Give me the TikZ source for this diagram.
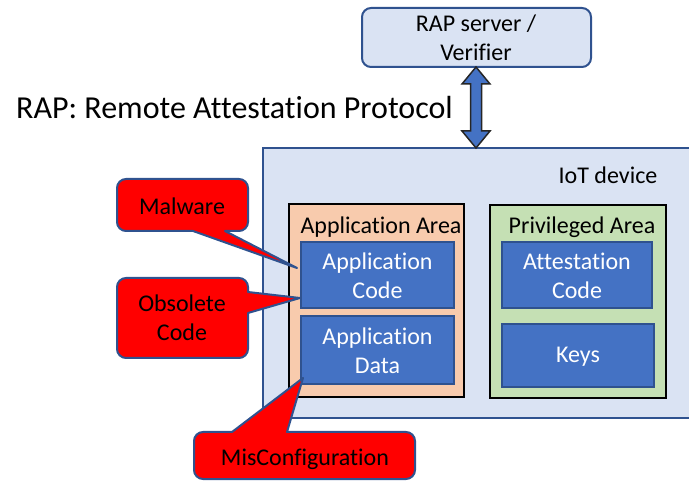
\documentclass[tikz,border=0pt]{standalone}
\usepackage{fontspec}
\setmainfont{Carlito}[Ligatures={NoCommon}]
\definecolor{lightblue}{HTML}{DAE3F3}
\definecolor{edgeblue}{HTML}{2F528F}
\definecolor{midblue}{HTML}{4472C4}
\definecolor{peach}{HTML}{F8CBAD}
\definecolor{lightgreen}{HTML}{C5E0B4}
\definecolor{alertred}{HTML}{FF0000}
\tikzset{
  txt/.style={font=\fontsize{24}{29}\selectfont, align=center, inner sep=0pt},
  wtxt/.style={txt, text=white},
  bluebox/.style={draw=edgeblue, fill=midblue, line width=2pt},
  areabox/.style={draw=black, line width=2.5pt},
  callout/.style={draw=edgeblue, fill=alertred, line width=2pt, line join=round},
}
\begin{document}
\begin{tikzpicture}[x=1pt,y=-1pt]
\useasboundingbox (0,0) rectangle (689,481);
\clip (0,0) rectangle (689,481);
% RAP server
\draw[draw=edgeblue, fill=lightblue, line width=2pt, rounded corners=9] (362,8) rectangle (591,67);
\node[txt] (srv) at (476,37.5) {RAP server /\\Verifier};
% IoT device
\draw[draw=edgeblue, fill=lightblue, line width=2pt] (263,148) rectangle (720,418);
\node[txt] (iot) at (608,175) {IoT device};
% double arrow
\draw[fill=midblue, draw=black!85, line width=1.5pt, line join=miter]
  (476,67) -- (490,84) -- (481.5,84) -- (481.5,131) -- (490,131) -- (476,148)
  -- (462,131) -- (470.5,131) -- (470.5,84) -- (462,84) -- cycle;
\node[font=\fontsize{32}{36}\selectfont, inner sep=0pt, anchor=west] (rap) at (16,108) {RAP: Remote Attestation Protocol};
% application area
\draw[areabox, fill=peach] (289,204) rectangle (464,397);
\node[txt] (apparea) at (381,227) {Application Area};
\draw[bluebox] (301,242) rectangle (454,308);
\node[wtxt] (appcode) at (377.5,276) {Application\\Code};
\draw[bluebox] (301,316) rectangle (454,384);
\node[wtxt] (appdata) at (377.5,351) {Application\\Data};
% privileged area
\draw[areabox, fill=lightgreen] (490,205) rectangle (666,398);
\node[txt] (privarea) at (582,227) {Privileged Area};
\draw[bluebox] (502,242) rectangle (652,308);
\node[wtxt] (attcode) at (577,276) {Attestation\\Code};
\draw[bluebox] (502,324) rectangle (654,387);
\node[wtxt] (keys) at (578,357) {Keys};
% callouts
\draw[callout] (182,179) [rounded corners=9] -- (248,179) -- (248,231) [sharp corners] -- (225,231) -- (297,268) -- (193,231) [rounded corners=9] -- (117,231) -- (117,179) [sharp corners] -- cycle;
\node[txt] (malware) at (182,206) {Malware};
\draw[callout] (182,278) [rounded corners=9] -- (248,278) [sharp corners] -- (248,292) -- (300,298) -- (248,313) [rounded corners=9] -- (248,358) -- (117,358) -- (117,278) [sharp corners] -- cycle;
\node[txt] (obsolete) at (182,318) {Obsolete\\Code};
\draw[callout] (304,432) [rounded corners=9] -- (415,432) -- (415,479) -- (194,479) -- (194,432) [sharp corners] -- (232,432) -- (303,378) -- (287,432) -- cycle;
\node[txt] (miscfg) at (305,459) {MisConfiguration};
\end{tikzpicture}
\end{document}
